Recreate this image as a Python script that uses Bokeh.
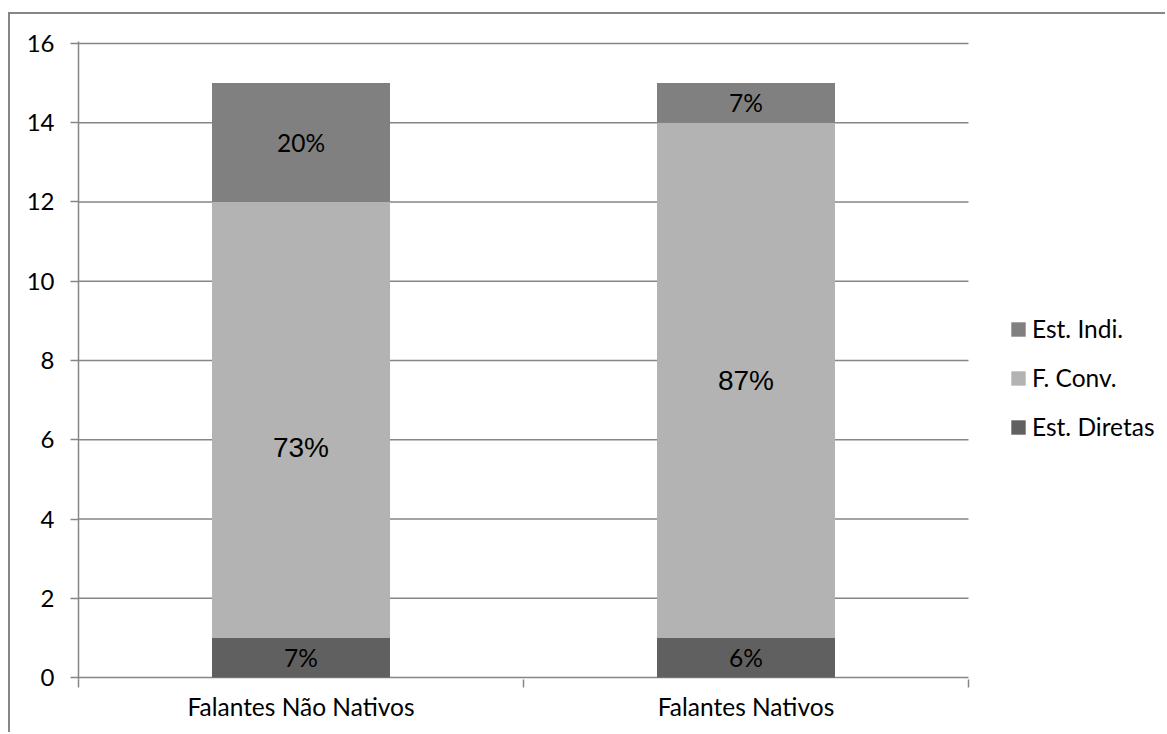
from bokeh.plotting import figure
from bokeh.models import (Range1d, FixedTicker, ColumnDataSource, LabelSet,
                          Legend, LegendItem)
from bokeh.core.properties import value
from bokeh.embed import file_html
from bokeh.resources import INLINE

# --- data -------------------------------------------------------------
groups = ["Falantes Não Nativos", "Falantes Nativos"]
series = ["Est. Diretas", "F. Conv.", "Est. Indi."]          # bottom -> top
est_diretas = [1, 1]
f_conv = [11, 13]
est_indi = [3, 1]
pct_diretas = ["7%", "6%"]
pct_conv = ["73%", "87%"]
pct_indi = ["20%", "7%"]
y_ticks = [0, 2, 4, 6, 8, 10, 12, 14, 16]

colors = ["#606060", "#b3b3b3", "#808080"]
GRID = "#868686"
FONT = "Lato"

n = len(groups)
xs = [i + 0.5 for i in range(n)]
source = ColumnDataSource(dict(x=xs, d=est_diretas, c=f_conv, i=est_indi))

# The plotting frame runs on to the right edge so the legend can live
# inside it; the category axis occupies the first 890 px of 1089 px.
FRAME_W, AXIS_W = 1089, 890
x_end = n * FRAME_W / AXIS_W
pad = 0.05

p = figure(width=1157, height=720, x_range=Range1d(0, x_end),
           y_range=Range1d(y_ticks[0] - pad, y_ticks[-1] + pad),
           output_backend="svg", toolbar_location=None,
           min_border_left=68, min_border_right=0,
           min_border_top=27, min_border_bottom=55)
# thin grey chart border (left and top edges shown)
p.margin = (12, 0, 0, 8)
p.styles = {"border-left": "2px solid #868686", "border-top": "2px solid #868686"}
p.outline_line_color = None
p.background_fill_color = "white"
p.border_fill_color = "white"

# horizontal gridlines across the category area only
p.xgrid.visible = False
p.ygrid.visible = False
p.segment(x0=[0] * len(y_ticks), x1=[n] * len(y_ticks), y0=y_ticks, y1=y_ticks,
          line_color=GRID, line_width=1.5)

# y axis
p.yaxis.ticker = FixedTicker(ticks=y_ticks)
p.yaxis.axis_line_color = GRID
p.yaxis.axis_line_width = 1.5
p.yaxis.major_tick_line_color = GRID
p.yaxis.major_tick_line_width = 1.5
p.yaxis.major_tick_out = 8
p.yaxis.major_tick_in = 0
p.yaxis.minor_tick_line_color = None
p.yaxis.major_label_standoff = 16
p.yaxis.major_label_text_font = FONT
p.yaxis.major_label_text_font_size = "24px"
p.yaxis.major_label_text_color = "black"

# x axis: labels centred on each group, ticks on group boundaries
p.xaxis.ticker = FixedTicker(ticks=xs, minor_ticks=list(range(n + 1)))
p.xaxis.major_label_overrides = {x: g for x, g in zip(xs, groups)}
p.xaxis.axis_line_color = None
p.xaxis.major_tick_line_color = None
p.xaxis.minor_tick_line_color = GRID
p.xaxis.minor_tick_line_width = 1.5
p.xaxis.minor_tick_out = 8
p.xaxis.minor_tick_in = 0
p.xaxis.major_label_standoff = 4
p.xaxis.major_label_text_font = FONT
p.xaxis.major_label_text_font_size = "24.5px"
p.xaxis.major_label_text_color = "black"

# stacked bars
renderers = p.vbar_stack(["d", "c", "i"], x="x", width=0.4, color=colors,
                         line_color=None, source=source)

# value labels inside each segment
lab_x, lab_y, lab_t = [], [], []
big_x, big_y, big_t = [], [], []
for k in range(n):
    b1 = est_diretas[k]
    b2 = b1 + f_conv[k]
    lab_x += [xs[k], xs[k]]
    lab_y += [est_diretas[k] / 2, b2 + est_indi[k] / 2]
    lab_t += [pct_diretas[k], pct_indi[k]]
    big_x.append(xs[k])
    big_y.append(b1 + f_conv[k] / 2)
    big_t.append(pct_conv[k])

small = LabelSet(x="x", y="y", text="t",
                 source=ColumnDataSource(dict(x=lab_x, y=lab_y, t=lab_t)),
                 text_align="center", text_baseline="middle",
                 text_font=value(FONT), text_font_size=value("24.5px"),
                 text_color="black")
p.add_layout(small)

# the first middle label sits a little lower than its segment centre
big_shift = [-28, 0]
for x, y, t, dy in zip(big_x, big_y, big_t, big_shift):
    p.add_layout(LabelSet(x="x", y="y", text="t", y_offset=dy,
                          source=ColumnDataSource(dict(x=[x], y=[y], t=[t])),
                          text_align="center", text_baseline="middle",
                          text_font=value("Liberation Sans"),
                          text_font_size=value("28px"), text_color="black"))

# legend, top series first, to the right of the bars
items = [LegendItem(label=s, renderers=[r]) for s, r in zip(series, renderers)][::-1]
legend = Legend(items=items, location=(931, 238), orientation="vertical",
                glyph_width=18, glyph_height=18, label_standoff=5,
                spacing=20, padding=0, margin=0,
                border_line_color=None, background_fill_alpha=0,
                label_text_font=FONT, label_text_font_size="24.5px",
                label_text_color="black")
p.add_layout(legend)

open("out.html", "w").write(file_html(p, INLINE))
